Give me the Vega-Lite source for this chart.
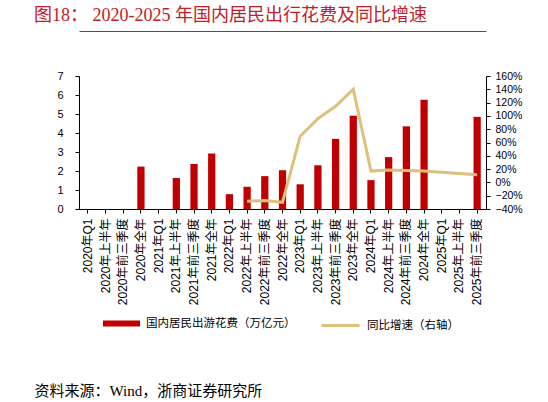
{
  "$schema": "https://vega.github.io/schema/vega-lite/v6.json",
  "autosize": {"type": "none"},
  "padding": {"left": 79, "top": 76, "right": 62, "bottom": 193},
  "width": 407,
  "height": 133,
  "background": "white",
  "title": {
    "text": "图18：  2020-2025 年国内居民出行花费及同比增速",
    "anchor": "start",
    "frame": "group",
    "dx": -45,
    "offset": 6,
    "font": "Liberation Serif, Noto Sans CJK SC",
    "fontSize": 18,
    "fontWeight": "normal",
    "color": "#C0202A"
  },
  "data": {
    "values": [
      {"period": "2020年Q1", "spend": null, "yoy": null},
      {"period": "2020年上半年", "spend": null, "yoy": null},
      {"period": "2020年前三季度", "spend": null, "yoy": null},
      {"period": "2020年全年", "spend": 2.23, "yoy": null},
      {"period": "2021年Q1", "spend": null, "yoy": null},
      {"period": "2021年上半年", "spend": 1.63, "yoy": null},
      {"period": "2021年前三季度", "spend": 2.37, "yoy": null},
      {"period": "2021年全年", "spend": 2.92, "yoy": null},
      {"period": "2022年Q1", "spend": 0.78, "yoy": null},
      {"period": "2022年上半年", "spend": 1.17, "yoy": -28.2},
      {"period": "2022年前三季度", "spend": 1.73, "yoy": -27.2},
      {"period": "2022年全年", "spend": 2.04, "yoy": -30.0},
      {"period": "2023年Q1", "spend": 1.30, "yoy": 69.5},
      {"period": "2023年上半年", "spend": 2.30, "yoy": 95.9},
      {"period": "2023年前三季度", "spend": 3.69, "yoy": 114.4},
      {"period": "2023年全年", "spend": 4.91, "yoy": 140.3},
      {"period": "2024年Q1", "spend": 1.52, "yoy": 17.0},
      {"period": "2024年上半年", "spend": 2.73, "yoy": 18.6},
      {"period": "2024年前三季度", "spend": 4.35, "yoy": 17.8},
      {"period": "2024年全年", "spend": 5.75, "yoy": 17.1},
      {"period": "2025年Q1", "spend": null, "yoy": null},
      {"period": "2025年上半年", "spend": null, "yoy": null},
      {"period": "2025年前三季度", "spend": 4.85, "yoy": 11.5}
    ]
  },
  "layer": [
    {
      "mark": {"type": "bar"},
      "encoding": {
        "x": {
          "field": "period",
          "type": "nominal",
          "sort": null,
          "scale": {
            "domain": ["2020年Q1", "2020年上半年", "2020年前三季度", "2020年全年", "2021年Q1", "2021年上半年", "2021年前三季度", "2021年全年", "2022年Q1", "2022年上半年", "2022年前三季度", "2022年全年", "2023年Q1", "2023年上半年", "2023年前三季度", "2023年全年", "2024年Q1", "2024年上半年", "2024年前三季度", "2024年全年", "2025年Q1", "2025年上半年", "2025年前三季度"],
            "paddingInner": 0.59,
            "paddingOuter": 0.295
          },
          "axis": {
            "orient": "bottom",
            "labelAngle": -90,
            "labelAlign": "right",
            "labelBaseline": "middle",
            "labelPadding": 5,
            "labelFont": "Liberation Sans, Noto Sans CJK SC",
            "labelFontSize": 12,
            "labelColor": "#000000",
            "domainColor": "#000000",
            "tickColor": "#000000",
            "tickSize": 4,
            "title": "资料来源：Wind，浙商证券研究所",
            "titleAnchor": "start",
            "titleAlign": "left",
            "titleX": -45,
            "titleY": 186,
            "titleBaseline": "alphabetic",
            "titleFont": "Liberation Serif, Noto Sans CJK SC",
            "titleFontSize": 15,
            "titleFontWeight": "normal",
            "titleColor": "#000000"
          }
        },
        "y": {
          "field": "spend",
          "type": "quantitative",
          "scale": {"domain": [0, 7], "nice": false, "zero": true},
          "axis": {
            "orient": "left",
            "values": [0, 1, 2, 3, 4, 5, 6, 7],
            "grid": false,
            "title": null,
            "labelFont": "Liberation Sans",
            "labelFontSize": 11,
            "labelColor": "#000000",
            "labelPadding": 12,
            "domainColor": "#000000",
            "tickColor": "#000000",
            "tickSize": 4
          }
        },
        "fill": {
          "datum": "国内居民出游花费（万亿元）",
          "type": "nominal",
          "scale": {
            "domain": ["国内居民出游花费（万亿元）"],
            "range": ["#C00000"]
          },
          "legend": {
            "orient": "none",
            "legendX": 24,
            "legendY": 229,
            "title": null,
            "symbolType": "M-1,-0.16H1V0.16H-1Z",
            "symbolSize": 1369,
            "symbolStrokeWidth": 0,
            "labelFont": "Noto Sans CJK SC",
            "labelFontSize": 11.5,
            "labelColor": "#000000",
            "labelOffset": 6
          }
        }
      }
    },
    {
      "transform": [{"filter": "datum.yoy != null"}],
      "mark": {"type": "line", "strokeWidth": 3, "interpolate": "linear"},
      "encoding": {
        "x": {
          "field": "period",
          "type": "nominal",
          "sort": null,
          "axis": {
            "orient": "top",
            "offset": 45,
            "labels": false,
            "ticks": false,
            "title": null,
            "domainColor": "#C0202A",
            "domainWidth": 1
          }
        },
        "y": {
          "field": "yoy",
          "type": "quantitative",
          "scale": {"domain": [-40, 160], "nice": false, "zero": false},
          "axis": {
            "orient": "right",
            "values": [-40, -20, 0, 20, 40, 60, 80, 100, 120, 140, 160],
            "labelExpr": "replace(datum.value + '%', '-', '−')",
            "grid": false,
            "title": null,
            "labelFont": "Liberation Sans",
            "labelFontSize": 10.5,
            "labelColor": "#000000",
            "labelPadding": 5,
            "domainColor": "#000000",
            "tickColor": "#000000",
            "tickSize": 4
          }
        },
        "stroke": {
          "datum": "同比增速（右轴）",
          "type": "nominal",
          "scale": {"domain": ["同比增速（右轴）"], "range": ["#DEC07B"]},
          "legend": {
            "orient": "none",
            "legendX": 241,
            "legendY": 229,
            "title": null,
            "symbolType": "stroke",
            "symbolSize": 1444,
            "symbolStrokeWidth": 3,
            "labelFont": "Noto Sans CJK SC",
            "labelFontSize": 11.5,
            "labelColor": "#000000",
            "labelOffset": 6
          }
        }
      }
    }
  ],
  "resolve": {
    "scale": {"y": "independent"},
    "axis": {"x": "independent"}
  },
  "config": {
    "view": {"stroke": null}
  }
}
